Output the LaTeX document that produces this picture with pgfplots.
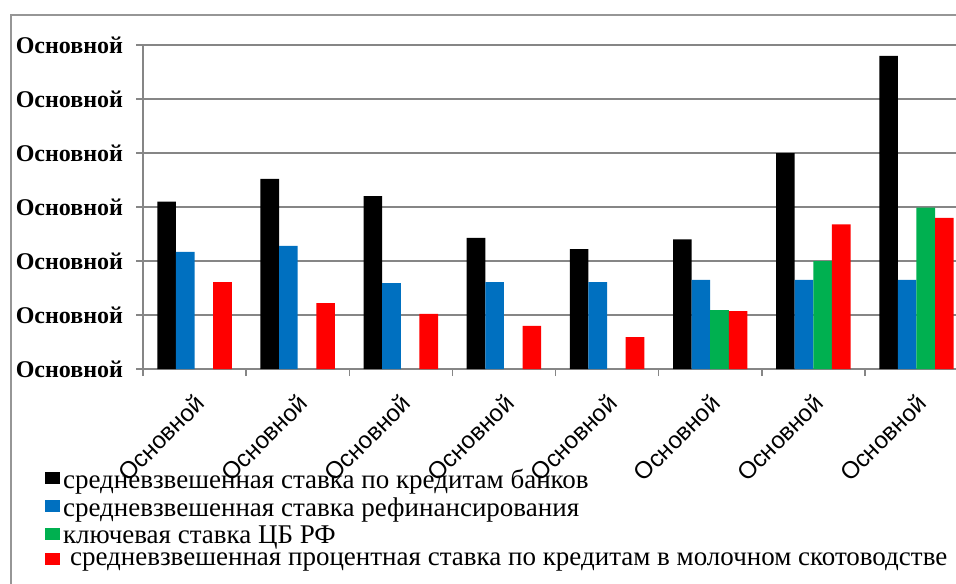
\documentclass[border=0pt]{standalone}
\usepackage{fontspec}
\setmainfont{Liberation Serif}
\setsansfont{Liberation Sans}
\usepackage{pgfplots}
\pgfplotsset{compat=1.18}
\definecolor{cblack}{RGB}{0,0,0}
\definecolor{cblue}{RGB}{0,112,192}
\definecolor{cgreen}{RGB}{0,176,80}
\definecolor{cred}{RGB}{255,0,0}
\definecolor{gridgray}{RGB}{134,134,134}
\definecolor{framegray}{RGB}{150,150,150}
\begin{document}
\begin{tikzpicture}
\begin{axis}[
  at={(71.5pt,107pt)}, anchor=south west,
  scale only axis, width=412.5pt, height=162pt,
  ybar=0pt, bar width=9.3pt,
  xmin=-0.5, xmax=7.5, ymin=0, ymax=6,
  axis x line=bottom, axis y line=left,
  axis line style={-, draw=gridgray, line width=0.75pt},
  xtick={0,...,7},
  xticklabels={Основной,Основной,Основной,Основной,Основной,Основной,Основной,Основной},
  minor xtick={-0.5,0.5,...,7.5},
  major x tick style={draw=none},
  minor x tick style={draw=gridgray, line width=0.75pt},
  ytick={0,...,6},
  yticklabels={Основной,Основной,Основной,Основной,Основной,Основной,Основной},
  y tick style={draw=gridgray, line width=0.75pt},
  tick align=outside, major tick length=3.5pt, minor tick length=3.5pt,
  ymajorgrids, grid style={draw=gridgray, line width=0.75pt},
  yticklabel style={font=\bfseries\fontsize{12}{14}\selectfont, xshift=-3pt},
  xticklabel style={font=\sffamily\fontsize{12}{14}\selectfont, rotate=45, anchor=east, xshift=-5pt, yshift=-10pt, inner sep=1pt},
  legend style={at={(-0.119,-0.297)}, anchor=north west, draw=none, fill=none,
    font=\fontsize{13.5}{14}\selectfont, row sep=0pt, inner sep=0pt,
    nodes={inner sep=1.6pt}},
  legend cell align=left,
  legend image code/.code={\fill[#1, draw=none] (0pt,-2pt) rectangle (7.3pt,4pt);},
  clip=false,
]
\addplot[fill=cblack, draw=none] coordinates {(0,3.10) (1,3.52) (2,3.20) (3,2.43) (4,2.22) (5,2.40) (6,4.00) (7,5.80)};
\addplot[fill=cblue, draw=none] coordinates {(0,2.17) (1,2.28) (2,1.59) (3,1.61) (4,1.61) (5,1.65) (6,1.65) (7,1.65)};
\addplot[fill=cgreen, draw=none] coordinates {(5,1.09) (6,2.00) (7,2.99)};
\addplot[fill=cred, draw=none] coordinates {(0,1.61) (1,1.22) (2,1.02) (3,0.80) (4,0.59) (5,1.07) (6,2.68) (7,2.80)};
\legend{средневзвешенная ставка по кредитам банков,
  средневзвешенная ставка рефинансирования,
  ключевая ставка ЦБ РФ,
  \hspace{3.5pt}средневзвешенная процентная ставка по кредитам в молочном скотоводстве}
\end{axis}
\draw[framegray, line width=0.75pt] (5.5pt,-5pt) -- (5.5pt,284pt) -- (490pt,284pt);
\pgfresetboundingbox
\useasboundingbox (0,0) rectangle (478pt,291.5pt);
\end{tikzpicture}
\end{document}
